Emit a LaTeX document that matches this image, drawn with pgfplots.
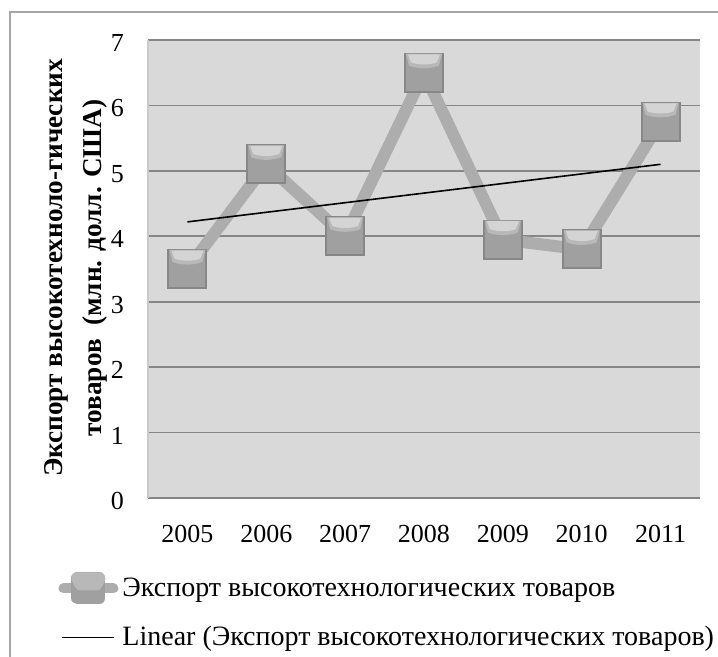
\documentclass[border=0pt]{standalone}
\usepackage{fontspec}
\setmainfont{Liberation Serif}
\usepackage{pgfplots}
\pgfplotsset{compat=1.18}
\definecolor{plotbg}{HTML}{D9D9D9}
\definecolor{gridc}{HTML}{868686}
\definecolor{serc}{HTML}{ADADAD}
\definecolor{markc}{HTML}{A0A0A0}
\definecolor{markd}{HTML}{878787}
\definecolor{markm}{HTML}{B8B8B8}
\definecolor{markl}{HTML}{D4D4D4}
\definecolor{framec}{HTML}{A6A6A6}
\pgfdeclareplotmark{bevel}{%
  \pgfsetfillcolor{markd}%
  \pgfpathrectangle{\pgfpoint{-10pt}{-10pt}}{\pgfpoint{20pt}{20pt}}\pgfusepathqfill
  \pgfsetfillcolor{markc}%
  \pgfpathrectangle{\pgfpoint{-9pt}{-9pt}}{\pgfpoint{18pt}{18.5pt}}\pgfusepathqfill
  \pgfsetfillcolor{markm}%
  \pgfpathmoveto{\pgfpoint{-9pt}{9.5pt}}%
  \pgfpathlineto{\pgfpoint{9pt}{9.5pt}}%
  \pgfpathlineto{\pgfpoint{7.5pt}{3.5pt}}%
  \pgfpathcurveto{\pgfpoint{3pt}{1.8pt}}{\pgfpoint{-3pt}{1.8pt}}{\pgfpoint{-7.5pt}{3.5pt}}%
  \pgfpathclose\pgfusepathqfill
  \pgfsetfillcolor{markl}%
  \pgfpathmoveto{\pgfpoint{-8pt}{9.2pt}}%
  \pgfpathlineto{\pgfpoint{8pt}{9.2pt}}%
  \pgfpathlineto{\pgfpoint{6.5pt}{5.2pt}}%
  \pgfpathcurveto{\pgfpoint{3pt}{3.8pt}}{\pgfpoint{-3pt}{3.8pt}}{\pgfpoint{-6.5pt}{5.2pt}}%
  \pgfpathclose\pgfusepathqfill
}
\begin{document}
\begin{tikzpicture}[x=1pt,y=1pt]
\path[use as bounding box] (0,0) rectangle (359,328.5);
\draw[framec, line width=0.8pt] (5,0) -- (5,322.5) -- (359,322.5);
\begin{axis}[
  at={(74pt,79.5pt)}, anchor=south west,
  scale only axis, width=276pt, height=229pt,
  xmin=-0.5, xmax=6.5, ymin=0, ymax=7,
  axis background/.style={fill=plotbg},
  xtick={0,1,2,3,4,5,6},
  xticklabels={2005,2006,2007,2008,2009,2010,2011},
  ytick={0,1,2,3,4,5,6,7},
  major tick length=0pt,
  ymajorgrids, grid style={gridc, line width=0.8pt},
  axis x line*=bottom, axis y line*=left,
  x axis line style={gridc, line width=0.8pt, -},
  y axis line style={framec!60, line width=0.6pt, -},
  tick label style={font=\fontsize{13}{15}\selectfont},
  /pgf/number format/assume math mode=true,
  xticklabel style={yshift=-10pt},
  yticklabel style={xshift=-8.5pt, yshift=-1.5pt},
  clip=false,
  legend style={at={(-0.163,-0.1616)}, anchor=north west, draw=none, fill=none,
    font=\fontsize{14}{16}\selectfont, row sep=9pt,
    legend cell align=left, inner sep=0pt,
    /tikz/every even column/.append style={column sep=0.5pt}},
]
\addplot[serc, line width=6pt, line join=round,
  mark=bevel,
  legend image code/.code={
    \draw[serc, line width=5pt, line cap=round] (2.5pt,0pt) -- (27.5pt,0pt);
    \fill[markc] (9.5pt,-5pt) rectangle (20.5pt,5pt);
    \fill[markm] (9.5pt,5pt) -- (20.5pt,5pt) -- (19pt,2pt) -- (11pt,2pt) -- cycle;}]
  coordinates {(0,3.5) (1,5.1) (2,4.0) (3,6.5) (4,3.95) (5,3.8) (6,5.75)};
\addlegendentry{Экспорт высокотехнологических товаров}
\addplot[black, line width=0.8pt, mark=none,
  legend image code/.code={\draw[black, line width=0.8pt] (2pt,0pt) -- (28pt,0pt);}]
  coordinates {(0,4.22) (6,5.10)};
\addlegendentry{Linear (Экспорт высокотехнологических товаров)}
\end{axis}
\node[rotate=90, font=\bfseries\fontsize{13.6}{16}\selectfont] at (28,194.5) {Экспорт высокотехноло-гических};
\node[rotate=90, font=\bfseries\fontsize{13.6}{16}\selectfont] at (47.5,194.5) {товаров\ \ (млн. долл. США)};
\end{tikzpicture}
\end{document}
